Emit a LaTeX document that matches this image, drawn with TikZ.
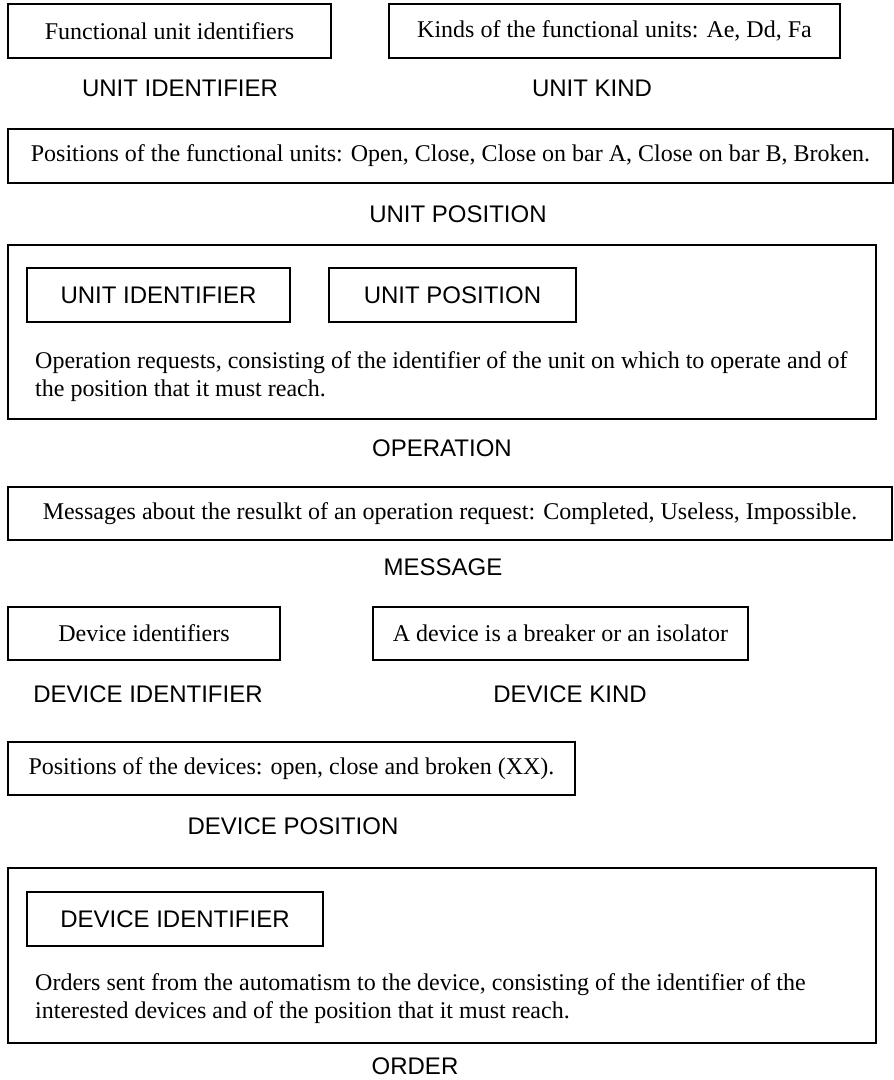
\documentclass[tikz,border=0pt]{standalone}
\usepackage{fontspec}
\setmainfont{Liberation Serif}
\setsansfont{Liberation Sans}
\begin{document}
\begin{tikzpicture}[x=1pt,y=-1pt,
  box/.style={draw=black, line width=1.8pt, inner sep=0pt, minimum height=54pt,
    font=\rmfamily\fontsize{24}{28}\selectfont},
  ibox/.style={box, font=\sffamily\fontsize{24}{28}\selectfont},
  lbl/.style={inner sep=0pt, font=\sffamily\fontsize{24}{28}\selectfont},
  para/.style={inner sep=0pt, anchor=base west, align=left,
    font=\rmfamily\fontsize{24}{28}\selectfont}]
\useasboundingbox (0,0) rectangle (894,1080);

% UNIT IDENTIFIER / UNIT KIND
\node[box, minimum width=323pt] (fui) at (169.5,31) {Functional unit identifiers};
\node[box, minimum width=451pt] (kinds) at (614.5,31) {Kinds of the functional units: Ae, Dd, Fa};
\node[lbl] (lui) at (180,88) {UNIT IDENTIFIER};
\node[lbl] (luk) at (592,88) {UNIT KIND};

% UNIT POSITION
\node[box, minimum width=885pt] (upos) at (450.5,156) {Positions of the functional units: Open, Close, Close on bar A, Close on bar B, Broken.};
\node[lbl] (lup) at (458,214) {UNIT POSITION};

% OPERATION
\node[box, minimum width=868pt, minimum height=174pt] (op) at (442,332) {};
\node[ibox, minimum width=263pt] (opuid) at (158.5,295) {UNIT IDENTIFIER};
\node[ibox, minimum width=247pt] (opupos) at (452.5,295) {UNIT POSITION};
\node[para] (optext) at (35,396) {Operation requests, consisting of the identifier of the unit on which to operate and of\\the position that it must reach.};
\node[lbl] (lop) at (442,448) {OPERATION};

% MESSAGE
\node[box, minimum width=884pt, minimum height=53pt] (msg) at (450,513.5) {Messages about the resulkt of an operation request: Completed, Useless, Impossible.};
\node[lbl] (lmsg) at (443,567) {MESSAGE};

% DEVICE IDENTIFIER / DEVICE KIND
\node[box, minimum width=272pt, minimum height=53pt] (devid) at (144,633.5) {Device identifiers};
\node[box, minimum width=375pt, minimum height=53pt] (devkind) at (560.5,633.5) {A device is a breaker or an isolator};
\node[lbl] (ldevid) at (148,694) {DEVICE IDENTIFIER};
\node[lbl] (ldevkind) at (570,694) {DEVICE KIND};

% DEVICE POSITION
\node[box, minimum width=567pt, minimum height=53pt] (devpos) at (291.5,768.5) {Positions of the devices: open, close and broken (XX).};
\node[lbl] (ldevpos) at (293,826) {DEVICE POSITION};

% ORDER
\node[box, minimum width=868pt, minimum height=175pt] (ord) at (442,955.5) {};
\node[ibox, minimum width=296pt] (orddevid) at (175,919) {DEVICE IDENTIFIER};
\node[para] (ordtext) at (35,1018) {Orders sent from the automatism to the device, consisting of the identifier of the\\interested devices and of the position that it must reach.};
\node[lbl] (lord) at (415,1066) {ORDER};
\end{tikzpicture}
\end{document}
